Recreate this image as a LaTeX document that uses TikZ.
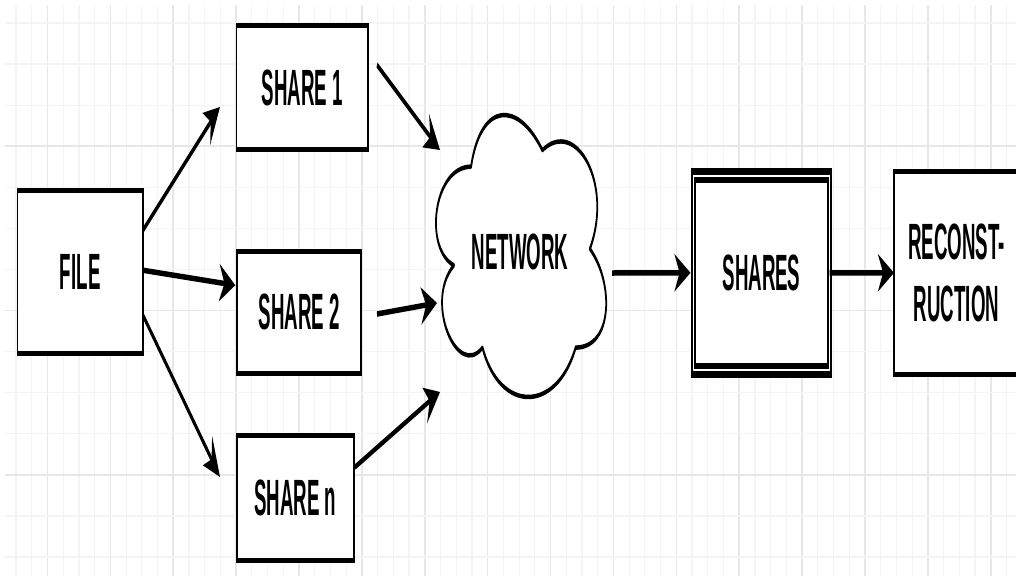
\documentclass[tikz,border=0pt]{standalone}
\usepackage{fontspec}
\newfontfamily\lblfont{Liberation Sans}[FakeStretch=0.94]
\usetikzlibrary{arrows.meta,calc}
\definecolor{gridminor}{RGB}{244,244,244}
\definecolor{gridmajor}{RGB}{231,231,231}
\tikzset{
  gmin/.style={draw=gridminor, line width=1.2pt},
  gmaj/.style={draw=gridmajor, line width=1.6pt},
  lbl/.style={font=\lblfont\bfseries\fontsize{51}{62}\selectfont, inner sep=0pt, align=center},
  box/.style={lbl, draw=black, fill=white, line width=5pt, outer sep=0pt},
  dbox/.style={box, double=white, double distance=2pt, line width=6.5pt},
  arr/.style={draw=black, line width=5.5pt, -{Stealth[length=41pt,width=37pt,inset=13pt]}},
  cloudline/.style={draw=black, fill=white, line width=4.5pt, line join=round},
}
\begin{document}
\begin{tikzpicture}[x=1pt,y=-1pt]
\useasboundingbox (0,0) rectangle (1016,576);
\fill[white] (0,0) rectangle (1016,576);
% grid
\foreach \k in {-2,...,61}{%
  \pgfmathsetmacro\gx{47.5+15.72*\k}%
  \pgfmathtruncatemacro\gm{mod(\k+400,4)}%
  \ifnum\gm=0 \draw[gmaj] (\gx,5) -- (\gx,576);\else \draw[gmin] (\gx,5) -- (\gx,576);\fi
}
\foreach \k in {0,...,13}{%
  \pgfmathsetmacro\gy{23+41.08*\k}%
  \pgfmathtruncatemacro\gm{mod(\k,4)}%
  \ifnum\gm=3 \draw[gmaj] (5,\gy) -- (1016,\gy);\else \draw[gmin] (5,\gy) -- (1016,\gy);\fi
}
\begin{scope}[x=2.5641pt, y=-1pt, transform canvas={xscale=0.39}]
  % boxes
  \node[box, minimum width=125.5*2.5641pt, minimum height=162.5pt] (file) at (80.25,271.75) {FILE};
  \node[box, minimum width=131.8*2.5641pt, minimum height=124.2pt] (s1) at (302.4,87.6) {SHARE 1};
  \node[box, minimum width=124*2.5641pt, minimum height=122.1pt] (s2) at (299.3,312.25) {SHARE 2};
  \node[box, minimum width=117*2.5641pt, minimum height=124.7pt] (sn) at (295.2,497.9) {SHARE n};
  \node[dbox, minimum width=136*2.5641pt, minimum height=194.5pt] (shares) at (761.5,272.75) {SHARES};
  \node[box, minimum width=125*2.5641pt, minimum height=203.3pt] (recon) at (956.5,272.85) {RECONST-\\RUCTION};
  % cloud
  \draw[cloudline] (471.1,166.65)
    .. controls (433.1,166.65) and (423.6,248.9) .. (454.0,265.35)
    .. controls (423.6,301.54) and (457.8,380.5) .. (482.5,347.6)
    .. controls (499.6,413.4) and (556.6,413.4) .. (575.6,347.6)
    .. controls (613.6,347.6) and (613.6,281.8) .. (589.85,248.9)
    .. controls (613.6,183.1) and (575.6,117.3) .. (542.35,150.2)
    .. controls (518.6,100.85) and (480.6,100.85) .. (471.1,166.65) -- cycle;
  \node[lbl] (net) at (520,252) {NETWORK};
  % free ends
  \coordinate (t1) at (220,107);
  \coordinate (t3) at (220,477);
  \coordinate (c1) at (440,150);
  \coordinate (c2) at (437,303);
  \coordinate (c3) at (440,392);
  \coordinate (c4) at (612,273);
  % connectors
  \draw[arr] ($(file.east)+(0,-41.5)$) -- (t1);
  \draw[arr] ($(file.east)+(0,-1.5)$) -- ($(s2.west)+(-2,-27)$);
  \draw[arr] ($(file.east)+(0,43.5)$) -- (t3);
  \draw[arr] ($(s1.east)+(8.7,-22.6)$) -- (c1);
  \draw[arr] ($(s2.east)+(15.7,1.75)$) -- (c2);
  \draw[arr] ($(sn.east)+(1.3,-30.9)$) -- (c3);
  \draw[arr] (c4) -- ($(shares.west)+(-3,0)$);
  \draw[arr] (shares.east) -- (recon.west);
\end{scope}
\end{tikzpicture}
\end{document}
